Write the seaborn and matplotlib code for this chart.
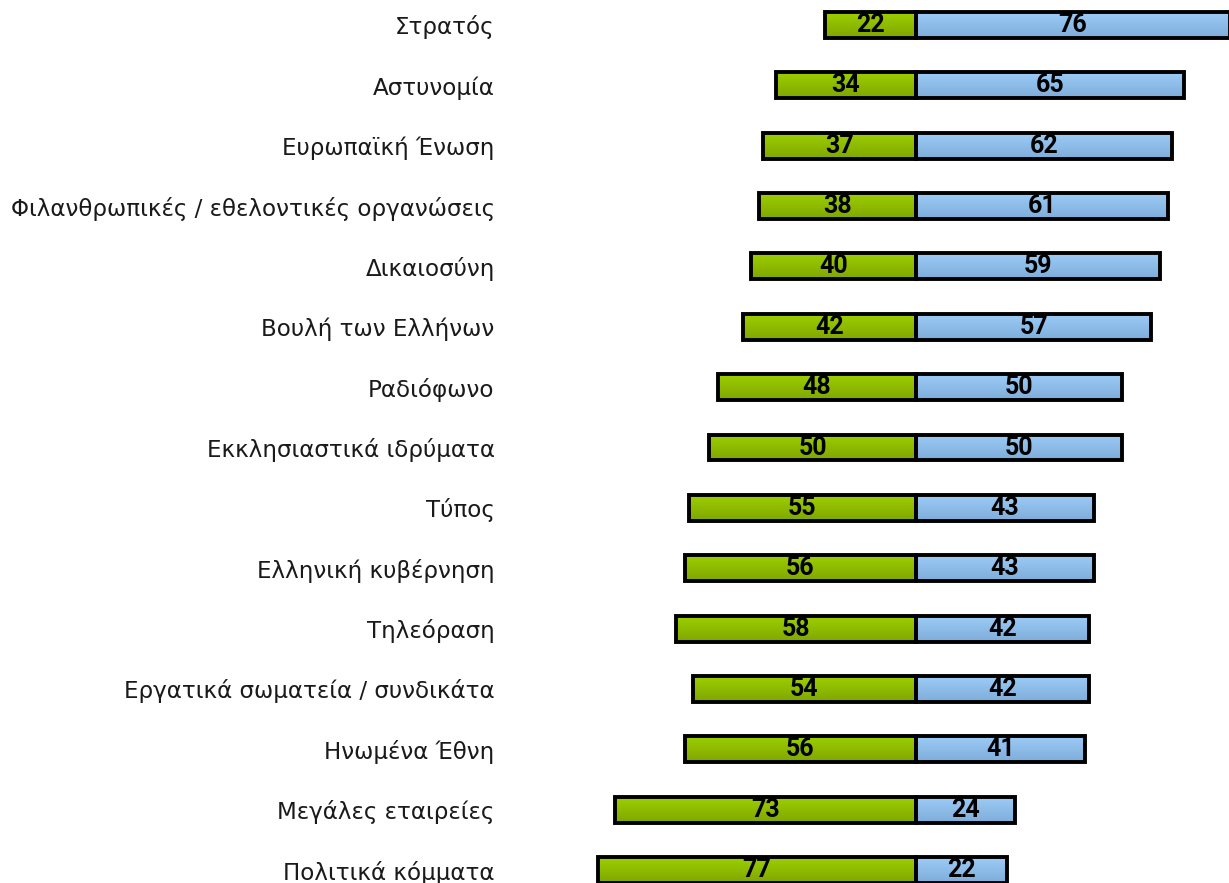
import numpy as np
import pandas as pd
import matplotlib
matplotlib.use("Agg")
import matplotlib.pyplot as plt
import seaborn as sns
from matplotlib.colors import LinearSegmentedColormap

categories = ["Στρατός", "Αστυνομία", "Ευρωπαϊκή Ένωση",
              "Φιλανθρωπικές / εθελοντικές οργανώσεις", "Δικαιοσύνη",
              "Βουλή των Ελλήνων", "Ραδιόφωνο", "Εκκλησιαστικά ιδρύματα",
              "Τύπος", "Ελληνική κυβέρνηση", "Τηλεόραση",
              "Εργατικά σωματεία / συνδικάτα", "Ηνωμένα Έθνη",
              "Μεγάλες εταιρείες", "Πολιτικά κόμματα"]
no_trust = [22, 34, 37, 38, 40, 42, 48, 50, 55, 56, 58, 54, 56, 73, 77]
trust = [76, 65, 62, 61, 59, 57, 50, 50, 43, 43, 42, 42, 41, 24, 22]

df = pd.DataFrame({"cat": categories, "neg": [-v for v in no_trust], "pos": trust})

sns.set_theme(style="white")
plt.rcParams['font.family'] = ['DejaVu Sans']

num_family = ["Roboto", "DejaVu Sans"]

fig = plt.figure(figsize=(12.29, 8.83), dpi=100)
ax = fig.add_axes([560/1229, 0, 1 - 560/1229, 1])

sns.barplot(data=df, x="neg", y="cat", orient="h", color="#8fbd00",
            width=0.43, edgecolor="black", linewidth=2.8, ax=ax)
sns.barplot(data=df, x="pos", y="cat", orient="h", color="#8dbdec",
            width=0.43, edgecolor="black", linewidth=2.8, ax=ax)

# gradient fills
green_cm = LinearSegmentedColormap.from_list("g", ["#9ccf00", "#80a600"])
blue_cm = LinearSegmentedColormap.from_list("b", ["#9ccbf6", "#7faddb"])
grad = np.linspace(0, 1, 64).reshape(-1, 1)
n = len(categories)
for i, p in enumerate(ax.patches):
    cm = green_cm if i < n else blue_cm
    x0, y0 = p.get_x(), p.get_y()
    w, h = p.get_width(), p.get_height()
    xa, xb = min(x0, x0 + w), max(x0, x0 + w)
    im = ax.imshow(grad, cmap=cm, aspect="auto",
                   extent=(xa, xb, y0 + h, y0), zorder=p.get_zorder() + 0.1)
    im.set_clip_path(p)
    p.set_facecolor("none")
    p.set_zorder(p.get_zorder() + 0.2)

# value labels
for i, (g, b) in enumerate(zip(no_trust, trust)):
    ax.text(-g / 2, i, str(g), ha="center", va="center", family=num_family,
            fontsize=18, fontweight="bold", color="black", zorder=5)
    ax.text(b / 2, i, str(b), ha="center", va="center", family=num_family,
            fontsize=18, fontweight="bold", color="black", zorder=5)

ax.set_xlim(-86.2, 75.8)
ax.set_ylim(14.215, -0.414)
ax.set_xlabel("")
ax.set_ylabel("")
ax.set_xticks([])
ax.tick_params(axis="y", length=0, pad=47, labelsize=16.6, labelcolor="#1a1a1a")
for s in ax.spines.values():
    s.set_visible(False)
ax.set_facecolor("white")

fig.savefig("out.png", dpi=100, facecolor="white")
